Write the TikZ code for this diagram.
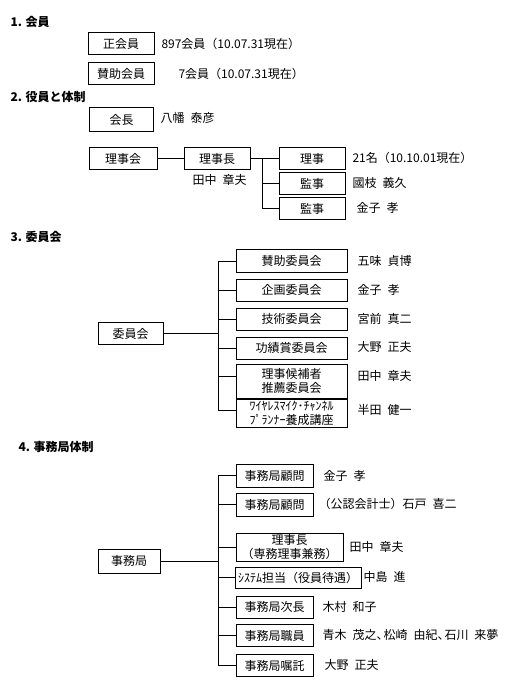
\documentclass[tikz,border=0pt]{standalone}
\usepackage{fontspec}
\setmainfont{Noto Sans CJK JP}
\newcommand\gp{\hspace{6pt}}
\newcommand\tou{、\kern-5pt}
\begin{document}
\begin{tikzpicture}[x=1pt,y=-1pt, line width=1pt,
  bx/.style={draw, rectangle, inner sep=0pt, align=center, font=\fontsize{12}{14}\selectfont},
  lbl/.style={anchor=west, inner sep=0pt, font=\fontsize{12}{14}\selectfont},
  hd/.style={anchor=west, inner sep=0pt, font=\bfseries\fontsize{12}{14}\selectfont},
  conn/.style={draw, line width=1pt}]
\useasboundingbox[fill=white] (0,0) rectangle (520,700);

% ---------- 1 ----------
\node[hd] (h1) at (10,22) {1. 会員};
\node[bx, minimum width=66pt, minimum height=22pt] (seikai) at (121,44) {正会員};
\node[lbl] (seikaiL) at (161,44) {897会員（10.07.31現在）};
\node[bx, minimum width=66pt, minimum height=22pt] (sanjo) at (121,74) {賛助会員};
\node[lbl] (sanjoL) at (178,74) {7会員（10.07.31現在）};

% ---------- 2 ----------
\node[hd] (h2) at (10,97) {2. 役員と体制};
\node[bx, minimum width=64pt, minimum height=24pt] (kaicho) at (121.5,120) {会長};
\node[lbl] (kaichoL) at (160,118) {八幡\gp 泰彦};

\node[bx, minimum width=68pt, minimum height=22pt] (rijikai) at (123,158.5) {理事会};
\node[bx, minimum width=66pt, minimum height=22pt] (rijicho) at (217,158.5) {理事長};
\node[lbl] (rijichoL) at (192,180) {田中\gp 章夫};
\node[bx, minimum width=66pt, minimum height=22pt] (riji) at (312,158.5) {理事};
\node[bx, minimum width=66pt, minimum height=22pt] (kanji1) at (312,184) {監事};
\node[bx, minimum width=66pt, minimum height=22pt] (kanji2) at (312,209) {監事};
\node[lbl] (rijiL) at (352,158) {21名（10.10.01現在）};
\node[lbl] (kanji1L) at (352,183) {國枝\gp 義久};
\node[lbl] (kanji2L) at (356,208) {金子\gp 孝};

\coordinate (t2) at (262,0);
\draw[conn] (rijikai.east) -- (rijicho.west);
\draw[conn] (rijicho.east) -- (rijicho.east -| t2) -- (t2 |- kanji2.west) -- (kanji2.west);
\draw[conn] (t2 |- kanji1.west) -- (kanji1.west);
\draw[conn] (t2 |- riji.west) -- (riji.west);

% ---------- 3 ----------
\node[hd] (h3) at (10,237) {3. 委員会};
\node[bx, minimum width=65pt, minimum height=22pt] (iinkai) at (130.5,333.5) {委員会};
\node[bx, minimum width=111pt, minimum height=23pt] (c1) at (291.5,261) {賛助委員会};
\node[bx, minimum width=111pt, minimum height=22pt] (c2) at (291.5,290) {企画委員会};
\node[bx, minimum width=111pt, minimum height=22pt] (c3) at (291.5,319) {技術委員会};
\node[bx, minimum width=111pt, minimum height=22pt] (c4) at (291.5,348) {功績賞委員会};
\node[bx, minimum width=111pt, minimum height=34pt] (c5) at (291.5,381) {理事候補者\\推薦委員会};
\node[bx, minimum width=111pt, minimum height=28pt] (c6) at (291.5,413) {ﾜｲﾔﾚｽﾏｲｸ･ﾁｬﾝﾈﾙ\\ﾌﾟﾗﾝﾅｰ養成講座};
\node[lbl] (c1L) at (357,261) {五味\gp 貞博};
\node[lbl] (c2L) at (357,290) {金子\gp 孝};
\node[lbl] (c3L) at (357,319) {宮前\gp 真二};
\node[lbl] (c4L) at (357,347) {大野\gp 正夫};
\node[lbl] (c5L) at (357,376) {田中\gp 章夫};
\node[lbl] (c6L) at (357,410) {半田\gp 健一};

\coordinate (t3) at (218,0);
\draw[conn] (iinkai.east) -- (iinkai.east -| t3);
\draw[conn] (c1.west) -- (c1.west -| t3) -- ([yshift=3pt]c6.west -| t3) -- ([yshift=3pt]c6.west);
\draw[conn] (t3 |- c2.west) -- (c2.west);
\draw[conn] (t3 |- c3.west) -- (c3.west);
\draw[conn] (t3 |- c4.west) -- (c4.west);
\draw[conn] ([yshift=5pt]c5.west -| t3) -- ([yshift=5pt]c5.west);

% ---------- 4 ----------
\node[hd] (h4) at (18,447) {4. 事務局体制};
\node[bx, minimum width=62pt, minimum height=24pt] (jimu) at (129,561) {事務局};
\node[bx, minimum width=77pt, minimum height=23pt] (d1) at (274.5,475.5) {事務局顧問};
\node[bx, minimum width=77pt, minimum height=23pt] (d2) at (274.5,504.5) {事務局顧問};
\node[bx, minimum width=107pt, minimum height=28pt] (d3) at (289.5,547) {理事長\\（専務理事兼務）};
\node[bx, minimum width=126pt, minimum height=21pt] (d4) at (298,577.5) {ｼｽﾃﾑ担当（役員待遇）};
\node[bx, minimum width=77pt, minimum height=22pt] (d5) at (274.5,607) {事務局次長};
\node[bx, minimum width=77pt, minimum height=22pt] (d6) at (274.5,635.5) {事務局職員};
\node[bx, minimum width=77pt, minimum height=22pt] (d7) at (274.5,665.5) {事務局嘱託};
\node[lbl] (d1L) at (323,476) {金子\gp 孝};
\node[lbl] (d2L) at (318,504) {（公認会計士）石戸\gp 喜二};
\node[lbl] (d3L) at (349,547) {田中\gp 章夫};
\node[lbl] (d4L) at (363,577) {中島\gp 進};
\node[lbl] (d5L) at (322,607) {木村\gp 和子};
\node[lbl] (d6L) at (322,635) {青木\gp 茂之\tou 松崎\gp 由紀\tou 石川\gp 来夢};
\node[lbl] (d7L) at (324,665) {大野\gp 正夫};

\coordinate (t4) at (218,0);
\draw[conn] (jimu.east) -- (jimu.east -| t4);
\draw[conn] (d1.west) -- (d1.west -| t4) -- (d7.west -| t4) -- (d7.west);
\draw[conn] (t4 |- d2.west) -- (d2.west);
\draw[conn] (t4 |- d3.west) -- (d3.west);
\draw[conn] (t4 |- d4.west) -- (d4.west);
\draw[conn] (t4 |- d5.west) -- (d5.west);
\draw[conn] (t4 |- d6.west) -- (d6.west);
\end{tikzpicture}
\end{document}
